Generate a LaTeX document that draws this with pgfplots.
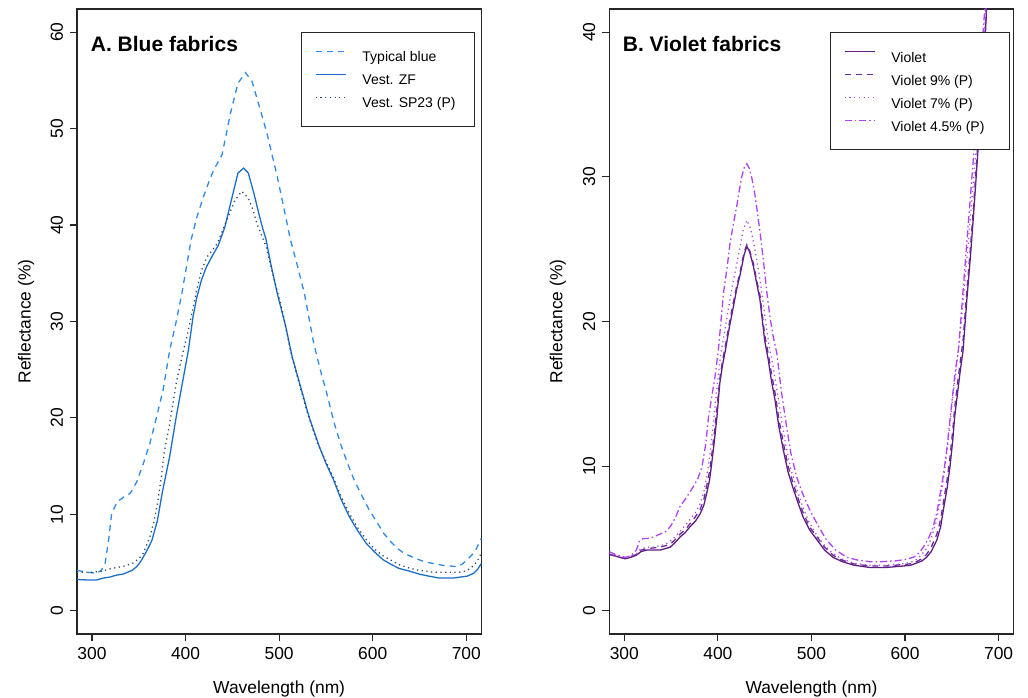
\documentclass[border=0pt]{standalone}
\usepackage{fontspec}
\setmainfont{Liberation Sans}
\usepackage{pgfplots}
\pgfplotsset{compat=1.18}

\definecolor{tblue}{HTML}{2E8BE8}
\definecolor{zfblue}{HTML}{1C6FC8}
\definecolor{spblue}{HTML}{2C4560}
\definecolor{vsolid}{HTML}{5F1E86}
\definecolor{vnine}{HTML}{6B2A9A}
\definecolor{vseven}{HTML}{A64BDB}
\definecolor{vfour}{HTML}{B044F0}

\newcommand\tickfont{\fontsize{17.4}{18}\selectfont}

\pgfplotsset{
  rpanel/.style={
    scale only axis, width=404.3pt, height=625pt, anchor=south west,
    xmin=284, xmax=716, xtick={300,400,500,600,700},
    tick pos=left, tick align=outside, major tick length=7.5pt,
    axis line style={black!85, line width=1.1pt},
    tick style={black!85, line width=1.1pt},
    /pgf/number format/assume math mode=true,
    ticklabel style={font=\tickfont},
    xticklabel shift=2pt, yticklabel shift=3pt,
    yticklabel style={rotate=90, anchor=south},
    label style={font=\tickfont},
    xlabel={Wavelength (nm)},
    xlabel style={at={(axis description cs:0.5,-0.096)}, anchor=base},
    ylabel={Reflectance (\%)},
    legend cell align=left,
    legend image code/.code={\draw[##1] (0pt,5pt) -- (30pt,5pt);},
    legend style={draw=black!85, line width=1.1pt, font=\fontsize{14}{16}\selectfont,
      inner xsep=14pt, inner ysep=17pt, row sep=9pt, column sep=16pt,
      nodes={inner sep=0pt, text height=12.5pt, text depth=1.5pt}},
  },
}

\begin{document}
\begin{tikzpicture}[x=1pt,y=1pt]
\useasboundingbox (0,0) rectangle (1028,698);

% ---------- A. Blue fabrics
\begin{axis}[rpanel, at={(77pt,64pt)},
  ymin=-2.4, ymax=62.4, ytick={0,10,20,30,40,50,60},
  ylabel style={at={(axis description cs:-0.115,0.5)}, anchor=base},
  legend style={at={(rel axis cs:0.9844,0.9637)}, anchor=north east},
]
\addplot[tblue, line width=1.3pt, dash pattern=on 6pt off 5pt] coordinates {
(284,4.2)(295,4.0)(305,3.9)(310,4.2)(314,4.9)(318,7.5)(321,10.1)(327,11.3)
(334,11.8)(341,12.2)(348,13.4)(355,15.3)(362,17.4)(369,20.1)(376,22.9)(383,27.0)
(390,30.0)(396,32.9)(406,38.5)(412,40.8)(419,42.9)(425,44.5)(430,45.7)(439,47.3)
(448,51.6)(456,54.7)(464,55.8)(471,54.9)(480,51.9)(487,49.5)(498,45.0)(505,41.8)
(512,38.5)(520,35.6)(527,32.9)(537,27.7)(545,24.6)(550,22.9)(559,19.4)(566,17.2)
(573,15.3)(580,13.6)(587,12.2)(596,10.5)(605,9.1)(612,8.0)(619,7.2)(626,6.5)
(633,6.0)(644,5.5)(655,5.1)(665,4.9)(676,4.7)(689,4.6)(695,4.8)(701,5.3)
(706,5.8)(710,6.3)(716,7.5)};
\addlegendentry{\makebox[98pt][l]{Typical blue}}
\addplot[zfblue, line width=1.3pt] coordinates {
(284,3.25)(295,3.2)(305,3.2)(312,3.4)(319,3.5)(326,3.7)(333,3.8)(343,4.2)
(348,4.6)(352,5.1)(359,6.3)(364,7.3)(370,9.4)(375,12.2)(383,16.0)(390,20.1)
(396,23.3)(403,27.0)(408,30.5)(412,32.5)(417,34.3)(422,35.6)(428,36.7)(435,37.9)
(442,39.8)(449,42.6)(456,45.4)(462,45.9)(467,45.4)(473,43.3)(478,41.3)(482,39.8)
(486,38.5)(491,36.0)(498,32.9)(507,29.5)(514,26.3)(523,23.2)(532,20.1)(543,17.0)
(550,15.3)(558,13.6)(566,11.6)(575,9.75)(584,8.3)(593,7.0)(602,6.1)(611,5.3)
(620,4.8)(628,4.4)(640,4.1)(650,3.8)(660,3.6)(671,3.4)(686,3.4)(701,3.6)
(708,3.9)(712,4.3)(716,4.9)};
\addlegendentry{Vest. ZF}
\addplot[spblue, line width=1.3pt, dash pattern=on 1.2pt off 3.5pt] coordinates {
(284,4.0)(300,4.0)(310,4.1)(321,4.4)(333,4.6)(343,4.9)(350,5.4)(355,6.0)
(362,7.7)(366,9.2)(370,11.1)(374,13.8)(377,16.3)(383,19.4)(390,23.6)(396,26.3)
(403,29.1)(412,33.3)(417,35.3)(423,36.7)(428,37.3)(434,38.1)(444,40.5)(453,42.6)
(460,43.5)(467,42.8)(472,41.6)(476,40.2)(481,39.0)(486,37.8)(493,35.0)(504,30.9)
(512,27.0)(521,23.7)(530,20.6)(541,17.4)(550,15.5)(558,13.8)(566,11.9)(575,10.1)
(584,8.6)(593,7.4)(602,6.4)(611,5.7)(628,4.8)(640,4.4)(650,4.2)(665,4.0)
(680,4.0)(695,4.0)(701,4.2)(708,4.7)(712,5.2)(716,6.0)};
\addlegendentry{Vest. SP23 (P)}
\node[anchor=base west, inner sep=0pt, font=\fontsize{21}{24}\selectfont\bfseries]
  at (rel axis cs:0.0339,0.9317) {A. Blue fabrics};
\end{axis}

% ---------- B. Violet fabrics
\begin{axis}[rpanel, at={(609.3pt,64pt)},
  ymin=-1.6, ymax=41.6, ytick={0,10,20,30,40},
  ylabel style={at={(axis description cs:-0.1158,0.5)}, anchor=base},
  legend style={at={(rel axis cs:0.9909,0.9632)}, anchor=north east},
]
\addplot[vsolid, line width=1.3pt] coordinates {
(284,3.9)(290,3.8)(295,3.7)(301,3.6)(307,3.7)(313,3.85)(318,4.1)(324,4.2)
(331,4.2)(338,4.2)(344,4.3)(349,4.4)(354,4.7)(359.5,5.1)(365,5.4)(370,5.8)
(376,6.2)(381,6.7)(385,7.3)(388,8.1)(391,9.0)(393,9.96)(396,11.6)(399,13.4)
(402,15.7)(405,17.0)(408,18.0)(412,19.5)(416.5,21.0)(420,22.2)(424,23.3)(428,24.6)
(431,25.2)(434,24.8)(438,23.8)(441,22.8)(445,21.5)(450,18.7)(454,17.3)(457,16.0)
(461,14.6)(465,12.8)(470,11.1)(475,9.6)(481,8.35)(486,7.4)(491,6.5)(498,5.6)
(506,4.9)(514,4.2)(523,3.7)(533,3.4)(545,3.16)(562,3.0)(580,3.0)(598,3.1)
(606,3.15)(612,3.3)(618,3.45)(623,3.7)(628,4.1)(634,4.9)(638,5.8)(641,7.0)
(645,8.5)(648,9.96)(651,11.8)(653,13.4)(656,15.0)(659,16.6)(662,18.0)(666,21.5)
(670,24.6)(673,27.2)(676,30.0)(678,31.9)(681,34.6)(684,37.2)(687,41.5)(690,45)};
\addlegendentry{\makebox[104pt][l]{Violet}}
\addplot[vnine, line width=1.3pt, dash pattern=on 6pt off 5pt] coordinates {
(284,3.9)(290,3.8)(295,3.7)(301,3.65)(307,3.75)(313,3.9)(318,4.2)(324,4.3)
(331,4.35)(338,4.4)(344,4.5)(349,4.6)(354,4.9)(359.5,5.3)(365,5.6)(370,6.0)
(376,6.5)(381,7.0)(385,7.7)(388,8.6)(391,9.6)(393,10.5)(396,12.2)(399,14.0)
(402,16.0)(405,17.3)(408,18.3)(412,19.8)(416.5,21.3)(420,22.4)(424,23.5)(428,24.8)
(431,25.3)(434,24.9)(438,24.0)(441,23.0)(445,21.8)(450,19.1)(454,17.7)(457,16.5)
(461,15.1)(465,13.3)(470,11.6)(475,10.0)(481,8.7)(486,7.7)(491,6.8)(498,5.8)
(506,5.1)(514,4.4)(523,3.85)(533,3.5)(545,3.25)(562,3.1)(580,3.1)(598,3.2)
(606,3.25)(612,3.4)(618,3.6)(623,3.9)(628,4.4)(634,5.3)(638,6.3)(641,7.5)
(645,9.1)(648,10.6)(651,12.5)(653,14.0)(656,15.7)(659,17.2)(662,18.7)(666,22.1)
(670,25.2)(673,27.8)(676,30.6)(678,32.5)(681,35.2)(684,37.9)(687,42.0)(690,45.5)};
\addlegendentry{Violet 9\% (P)}
\addplot[vseven, line width=1.3pt, dash pattern=on 1.2pt off 3.5pt] coordinates {
(284,4.0)(290,3.9)(295,3.8)(301,3.7)(307,3.8)(313,3.95)(318,4.3)(324,4.4)
(331,4.4)(338,4.5)(344,4.6)(349,4.8)(354,5.1)(359.5,5.5)(365,5.9)(370,6.3)
(376,6.8)(381,7.4)(385,8.2)(388,9.3)(391,10.5)(394,12.3)(397,14.2)(400,16.0)
(403,17.7)(407,19.2)(411,20.8)(415,22.3)(419,23.6)(423,24.9)(427,26.3)(431,27.0)
(435,26.4)(439,25.2)(443,23.7)(447,22.0)(451,20.0)(455,18.2)(459,16.9)(463,15.3)
(468,13.2)(473,11.3)(478,9.8)(484,8.5)(490,7.3)(497,6.2)(505,5.3)(513,4.6)
(522,4.0)(532,3.6)(545,3.3)(562,3.15)(580,3.15)(598,3.25)(606,3.35)(612,3.55)
(618,3.9)(623,4.3)(628,5.0)(633,6.1)(637,7.4)(640,8.7)(644,10.6)(647,12.4)
(650,14.2)(653,15.9)(656,17.5)(660,19.9)(664,22.8)(668,25.8)(672,28.9)(675,31.2)
(678,33.6)(681,36.3)(684,39.0)(687,42.2)(690,45.5)};
\addlegendentry{Violet 7\% (P)}
\addplot[vfour, line width=1.3pt, dash pattern=on 7pt off 3pt on 1.5pt off 3pt] coordinates {
(284,4.1)(290,3.9)(295,3.8)(301,3.7)(307,3.8)(313,4.2)(316,4.8)(320,5.0)
(325,5.0)(331,5.1)(338,5.3)(345,5.5)(350,5.9)(355,6.5)(359.5,7.2)(366,7.8)
(374,8.6)(379,9.2)(383,9.96)(387,11.5)(390,13.4)(394,15.0)(397,16.2)(400.5,18.0)
(406,21.95)(410,23.8)(413,25.4)(417,26.9)(420,27.9)(423,29.1)(425.5,30.0)(428.5,30.7)
(431,30.9)(433.5,30.6)(436,30.0)(439,29.0)(441.5,27.9)(445,26.2)(448.5,24.3)(452,22.2)
(455.7,20.3)(459,19.0)(463,17.8)(468,15.1)(473.5,12.7)(478,10.9)(484,9.3)(490,8.2)
(498,7.0)(507,5.9)(516,4.9)(526,4.2)(537.6,3.7)(550,3.5)(562.5,3.4)(575,3.4)
(591,3.46)(600,3.55)(609,3.7)(615,4.0)(619.5,4.4)(625,5.0)(630,5.8)(634,6.8)
(637,7.9)(641,9.4)(644.5,11.1)(648,13.2)(651.5,15.3)(654,16.7)(657,18.0)(664,23.8)
(671,29.6)(678,35.3)(683.6,40.2)(688,44)};
\addlegendentry{Violet 4.5\% (P)}
\node[anchor=base west, inner sep=0pt, font=\fontsize{21}{24}\selectfont\bfseries]
  at (rel axis cs:0.0331,0.9317) {B. Violet fabrics};
\end{axis}
\end{tikzpicture}
\end{document}
